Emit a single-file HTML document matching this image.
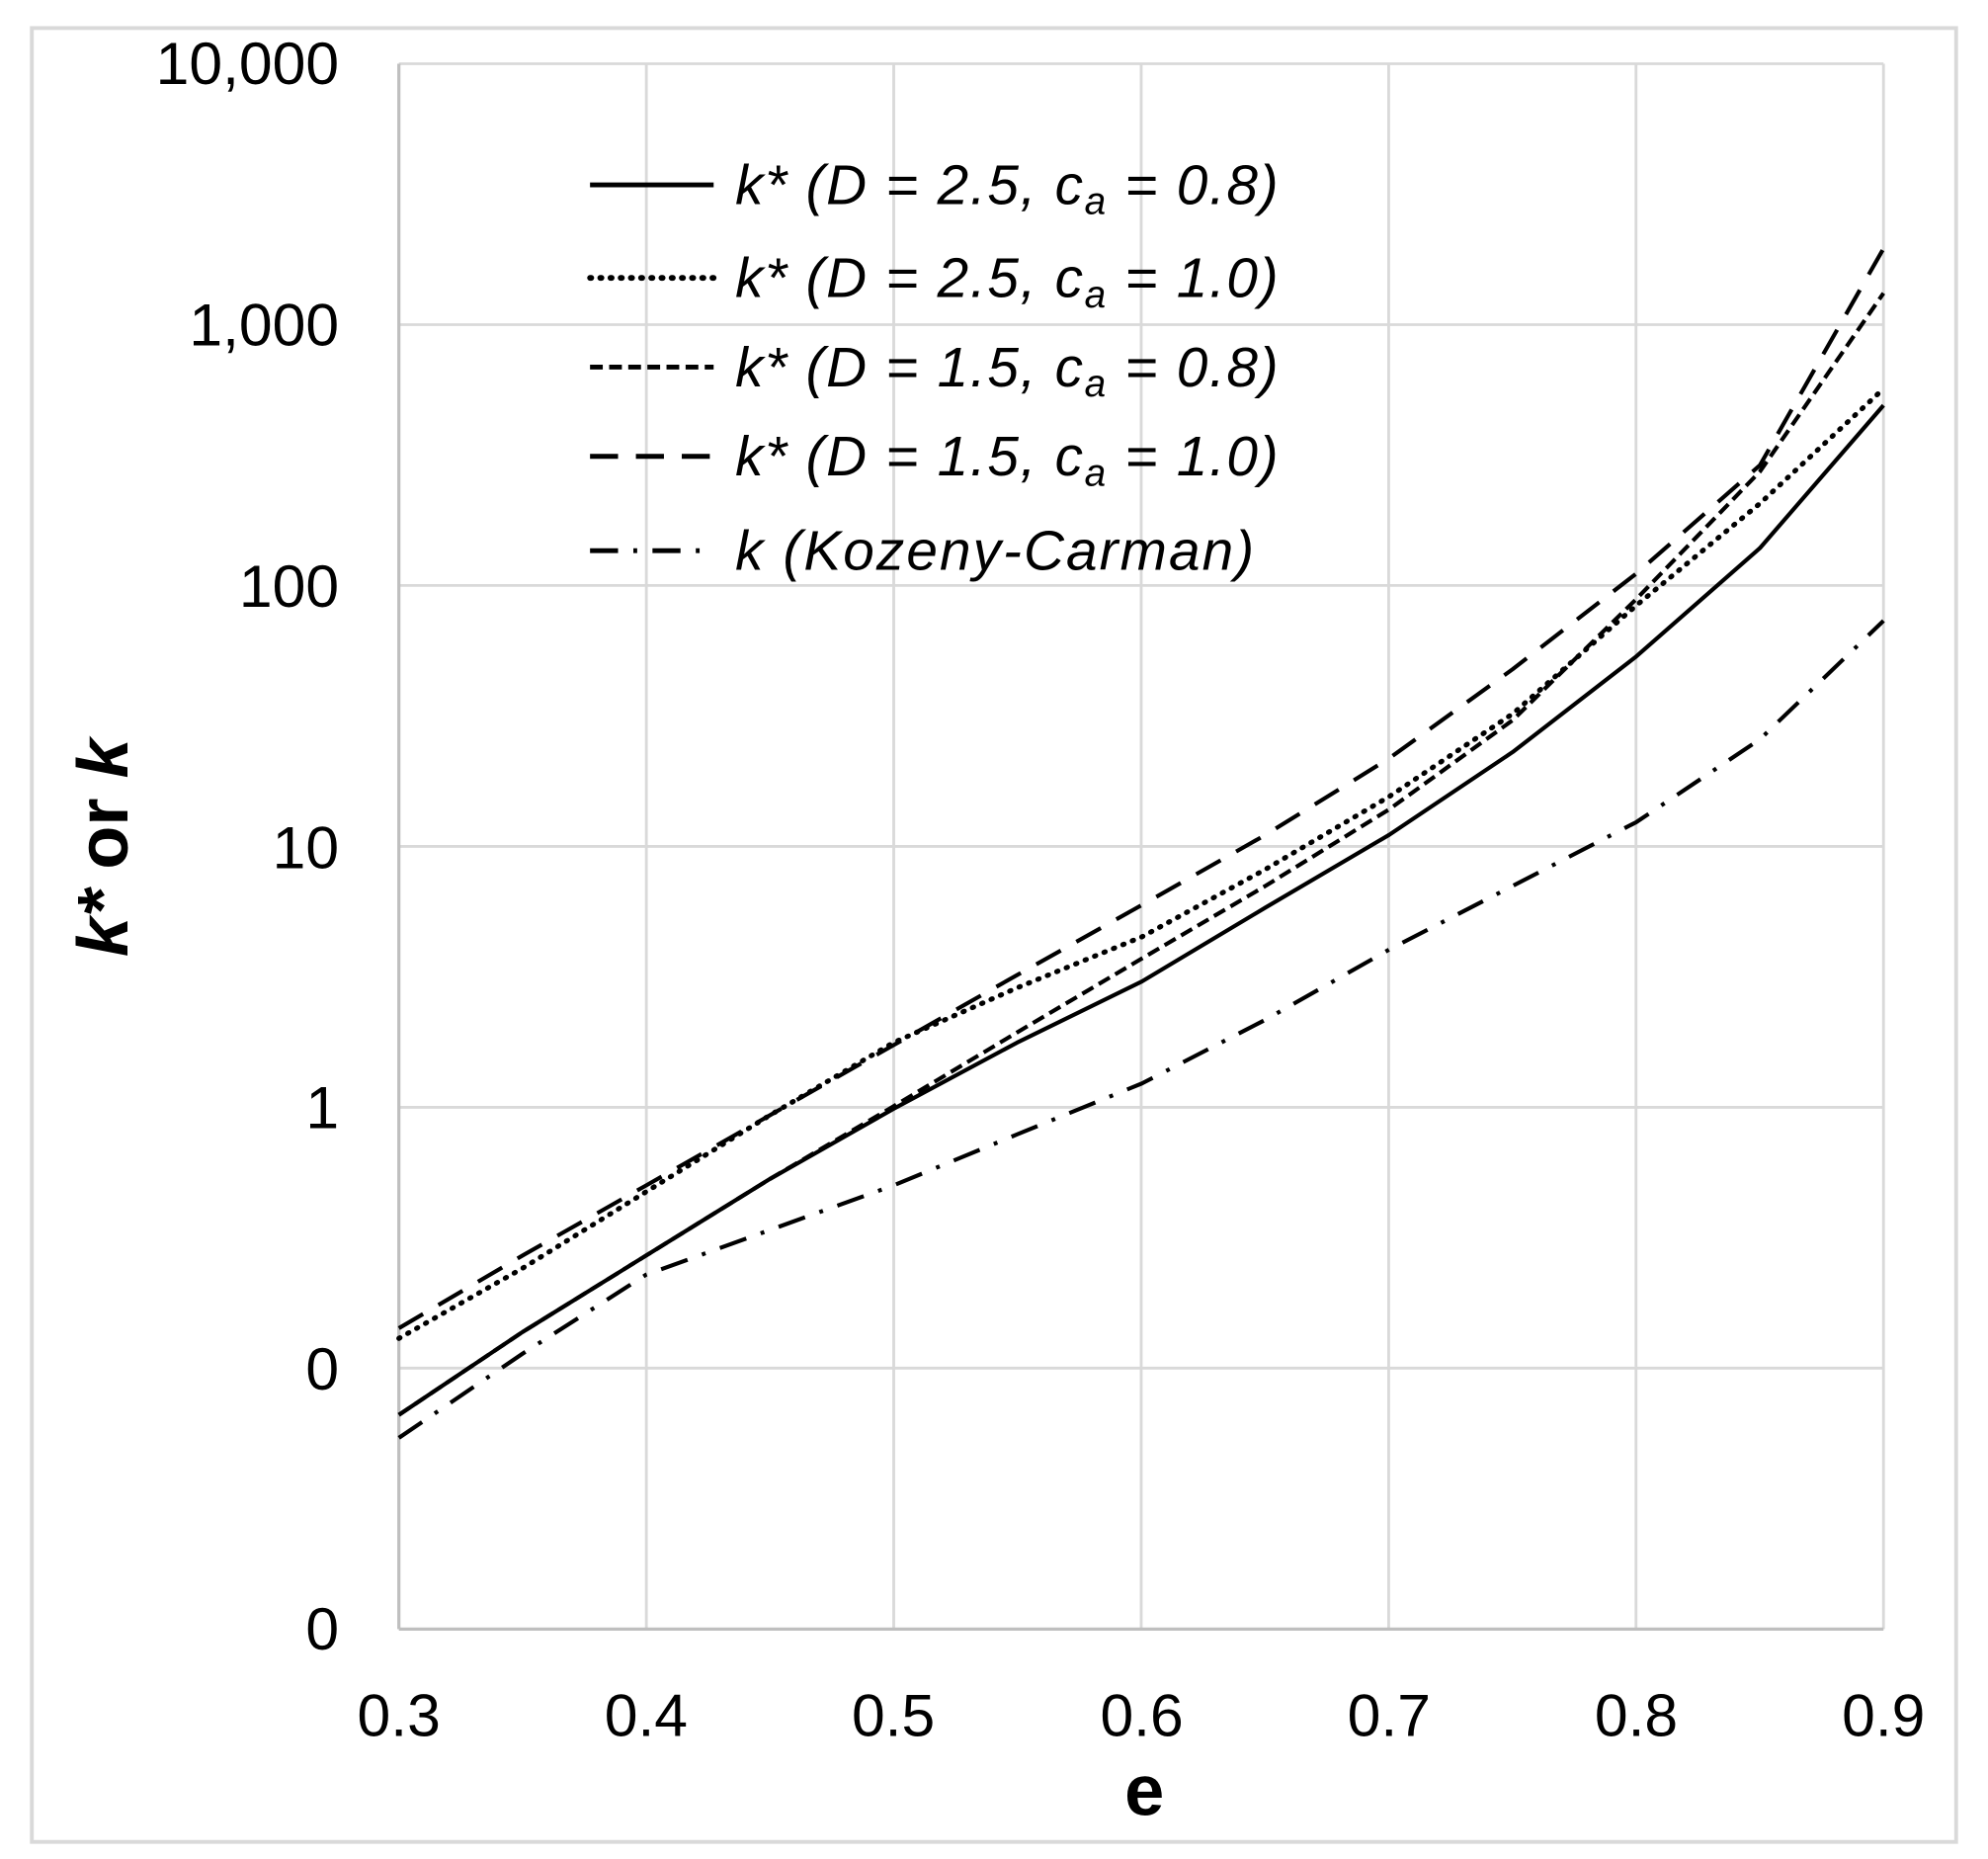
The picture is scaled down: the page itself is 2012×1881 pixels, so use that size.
<!DOCTYPE html>
<html><head><meta charset="utf-8"><style>
html,body{margin:0;padding:0;background:#fff;}
svg{display:block;}
text{font-family:"Liberation Sans",Arial,sans-serif;fill:#000;}
</style></head><body>
<svg width="2012" height="1881" viewBox="0 0 1560 1458.4" preserveAspectRatio="none" xmlns="http://www.w3.org/2000/svg">
<rect x="0" y="0" width="1560" height="1459" fill="#fff"/>
<rect x="25" y="22" width="1510" height="1423" fill="none" stroke="#d9d9d9" stroke-width="3"/>
<g stroke="#d9d9d9" stroke-width="2.2" fill="none">
<line x1="313" y1="50" x2="1478" y2="50"/>
<line x1="313" y1="254.7" x2="1478" y2="254.7"/>
<line x1="313" y1="459.3" x2="1478" y2="459.3"/>
<line x1="313" y1="664" x2="1478" y2="664"/>
<line x1="313" y1="868.7" x2="1478" y2="868.7"/>
<line x1="313" y1="1073.3" x2="1478" y2="1073.3"/>
<line x1="507.2" y1="50" x2="507.2" y2="1278"/>
<line x1="701.3" y1="50" x2="701.3" y2="1278"/>
<line x1="895.5" y1="50" x2="895.5" y2="1278"/>
<line x1="1089.7" y1="50" x2="1089.7" y2="1278"/>
<line x1="1283.8" y1="50" x2="1283.8" y2="1278"/>
<line x1="1478" y1="50" x2="1478" y2="1278"/>
</g>
<g stroke="#bfbfbf" stroke-width="2.5">
<line x1="313" y1="50" x2="313" y2="1278"/>
<line x1="313" y1="1278" x2="1478" y2="1278"/>
</g>
<g font-size="47" text-anchor="end">
<text x="266" y="66">10,000</text>
<text x="266" y="271">1,000</text>
<text x="266" y="476">100</text>
<text x="266" y="681">10</text>
<text x="266" y="885">1</text>
<text x="266" y="1090">0</text>
<text x="266" y="1294">0</text>
</g>
<g font-size="47" text-anchor="middle">
<text x="313" y="1362">0.3</text>
<text x="507" y="1362">0.4</text>
<text x="701" y="1362">0.5</text>
<text x="896" y="1362">0.6</text>
<text x="1090" y="1362">0.7</text>
<text x="1284" y="1362">0.8</text>
<text x="1478" y="1362">0.9</text>
</g>
<text x="898" y="1424" font-size="56" font-weight="bold" text-anchor="middle">e</text>
<text transform="translate(100,665) rotate(-90)" font-size="56" font-weight="bold" text-anchor="middle"><tspan font-style="italic">k*</tspan> or <tspan font-style="italic">k</tspan></text>
<g fill="none" stroke="#000" stroke-width="3.2" stroke-linejoin="round">
<polyline points="313,1110 410,1045 507,985 604,925 701,870 798,818 896,770 993,712 1090,655 1187,590 1284,515 1381,430 1478,318"/>
<polyline points="313,1050 410,995 507,935 604,875 701,818 798,775 896,735 993,682 1090,625 1187,560 1284,475 1381,395 1478,305" stroke-dasharray="1,7" stroke-linecap="round" stroke-width="4"/>
<polyline points="313,1110 410,1045 507,985 604,925 701,868 798,810 896,752 993,695 1090,635 1187,565 1284,470 1381,370 1478,230" stroke-dasharray="10,5"/>
<polyline points="313,1042 410,985 507,930 604,875 701,820 798,765 896,710 993,655 1090,595 1187,525 1284,450 1381,365 1478,195" stroke-dasharray="22,14"/>
<polyline points="313,1128 410,1062 507,1000 604,965 701,930 798,890 896,850 993,800 1090,745 1187,695 1284,645 1381,580 1478,487" stroke-dasharray="22,12,3,12"/>
</g>
<g stroke="#000" stroke-width="3.8">
<line x1="463" y1="145" x2="560" y2="145"/>
<line x1="463" y1="218" x2="560" y2="218" stroke-dasharray="1,7" stroke-linecap="round" stroke-width="4.5"/>
<line x1="463" y1="288" x2="560" y2="288" stroke-dasharray="10,5"/>
<line x1="463" y1="358" x2="560" y2="358" stroke-dasharray="22,14"/>
<line x1="463" y1="432" x2="560" y2="432" stroke-dasharray="22,12,3,12"/>
</g>
<g font-size="44" font-style="italic">
<text x="577" y="160" textLength="426" lengthAdjust="spacing">k* (D = 2.5, c<tspan font-size="30" dy="8">a</tspan><tspan dy="-8"> = 0.8)</tspan></text>
<text x="577" y="233" textLength="426" lengthAdjust="spacing">k* (D = 2.5, c<tspan font-size="30" dy="8">a</tspan><tspan dy="-8"> = 1.0)</tspan></text>
<text x="577" y="303" textLength="426" lengthAdjust="spacing">k* (D = 1.5, c<tspan font-size="30" dy="8">a</tspan><tspan dy="-8"> = 0.8)</tspan></text>
<text x="577" y="373" textLength="426" lengthAdjust="spacing">k* (D = 1.5, c<tspan font-size="30" dy="8">a</tspan><tspan dy="-8"> = 1.0)</tspan></text>
<text x="577" y="447" textLength="407" lengthAdjust="spacing">k (Kozeny-Carman)</text>
</g>
</svg>
</body></html>
